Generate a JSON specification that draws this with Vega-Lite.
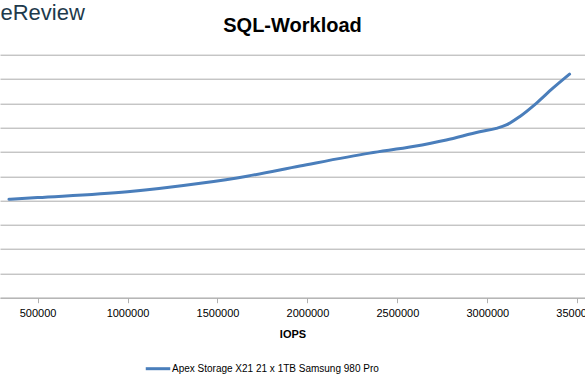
{
  "$schema": "https://vega.github.io/schema/vega-lite/v6.json",
  "width": 585,
  "height": 243,
  "autosize": "none",
  "padding": {"top": 54.7, "left": 0, "right": 0, "bottom": 92.3},
  "background": "white",
  "title": {
    "text": "SQL-Workload",
    "font": "Liberation Sans",
    "fontSize": 20,
    "fontWeight": "bold",
    "color": "#000000",
    "anchor": "middle",
    "frame": "group",
    "baseline": "alphabetic",
    "offset": -50
  },
  "data": {
    "values": [
      {"iops": 340600, "latency": 4.05, "series": "Apex Storage X21 21 x 1TB Samsung 980 Pro"},
      {"iops": 500000, "latency": 4.12, "series": "Apex Storage X21 21 x 1TB Samsung 980 Pro"},
      {"iops": 1000000, "latency": 4.36, "series": "Apex Storage X21 21 x 1TB Samsung 980 Pro"},
      {"iops": 1405000, "latency": 4.71, "series": "Apex Storage X21 21 x 1TB Samsung 980 Pro"},
      {"iops": 1664000, "latency": 5.0, "series": "Apex Storage X21 21 x 1TB Samsung 980 Pro"},
      {"iops": 1958000, "latency": 5.42, "series": "Apex Storage X21 21 x 1TB Samsung 980 Pro"},
      {"iops": 2346000, "latency": 5.95, "series": "Apex Storage X21 21 x 1TB Samsung 980 Pro"},
      {"iops": 2586700, "latency": 6.22, "series": "Apex Storage X21 21 x 1TB Samsung 980 Pro"},
      {"iops": 2772200, "latency": 6.49, "series": "Apex Storage X21 21 x 1TB Samsung 980 Pro"},
      {"iops": 2957200, "latency": 6.83, "series": "Apex Storage X21 21 x 1TB Samsung 980 Pro"},
      {"iops": 3050000, "latency": 6.97, "series": "Apex Storage X21 21 x 1TB Samsung 980 Pro"},
      {"iops": 3105600, "latency": 7.11, "series": "Apex Storage X21 21 x 1TB Samsung 980 Pro"},
      {"iops": 3179400, "latency": 7.45, "series": "Apex Storage X21 21 x 1TB Samsung 980 Pro"},
      {"iops": 3272200, "latency": 8.0, "series": "Apex Storage X21 21 x 1TB Samsung 980 Pro"},
      {"iops": 3364400, "latency": 8.62, "series": "Apex Storage X21 21 x 1TB Samsung 980 Pro"},
      {"iops": 3457300, "latency": 9.2, "series": "Apex Storage X21 21 x 1TB Samsung 980 Pro"}
    ]
  },
  "mark": {"type": "line", "interpolate": "monotone", "strokeWidth": 3, "strokeCap": "round", "clip": false},
  "encoding": {
    "x": {
      "field": "iops",
      "type": "quantitative",
      "scale": {"domain": [291000, 3543000], "nice": false, "zero": false},
      "axis": {
        "title": "IOPS",
        "values": [500000, 1000000, 1500000, 2000000, 2500000, 3000000, 3500000],
        "format": "d",
        "grid": false,
        "domainColor": "#b0b0b0",
        "tickColor": "#b0b0b0",
        "tickSize": 5,
        "labelFont": "Liberation Sans",
        "labelFontSize": 11,
        "labelColor": "#000000",
        "labelPadding": 5,
        "labelFlush": false,
        "labelOverlap": false,
        "titleFont": "Liberation Sans",
        "titleFontSize": 11,
        "titleFontWeight": "bold",
        "titleColor": "#000000",
        "titlePadding": 10
      }
    },
    "y": {
      "field": "latency",
      "type": "quantitative",
      "scale": {"domain": [0, 10], "nice": false},
      "axis": {
        "title": "eReview",
        "values": [0, 1, 2, 3, 4, 5, 6, 7, 8, 9, 10],
        "labels": false,
        "ticks": false,
        "domain": false,
        "grid": true,
        "gridColor": "#acacac",
        "gridWidth": 1,
        "titleAngle": 0,
        "titleAlign": "left",
        "titleBaseline": "alphabetic",
        "titleX": 0,
        "titleY": -35,
        "titleFont": "Liberation Sans",
        "titleFontSize": 22,
        "titleFontWeight": "normal",
        "titleColor": "#1e3a4c"
      }
    },
    "color": {
      "field": "series",
      "type": "nominal",
      "scale": {"range": ["#4a7ebb"]},
      "legend": {
        "title": null,
        "orient": "none",
        "legendX": 144,
        "legendY": 300,
        "symbolType": "stroke",
        "symbolSize": 600,
        "symbolStrokeWidth": 3,
        "labelFont": "Liberation Sans",
        "labelFontSize": 10,
        "labelColor": "#000000",
        "labelLimit": 0,
        "labelOffset": 0
      }
    }
  },
  "config": {"view": {"stroke": null}}
}
